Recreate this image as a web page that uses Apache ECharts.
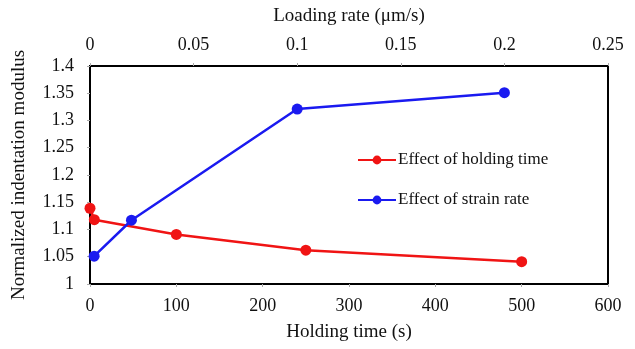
<!DOCTYPE html>
<html>
<head>
<meta charset="utf-8">
<script src="https://cdn.jsdelivr.net/npm/echarts@6/dist/echarts.min.js"></script>
<style>
  html, body { margin: 0; padding: 0; background: #fff; }
  #chart { width: 635px; height: 349px; }
</style>
</head>
<body>
<div id="chart"></div>
<script>
// Holding time (s) vs. normalized modulus
const holdingTime = [0, 5, 100, 250, 500];
const holdingModulus = [1.139, 1.118, 1.091, 1.062, 1.041];
// Loading rate (µm/s) vs. normalized modulus
const loadingRate = [0.002, 0.02, 0.1, 0.2];
const rateModulus = [1.051, 1.117, 1.321, 1.351];

const seriesNames = ['Effect of holding time', 'Effect of strain rate'];

const FONT = '"Liberation Serif", "Times New Roman", serif';
const RED = '#f01414';
const BLUE = '#1a1af0';

const chart = echarts.init(document.getElementById('chart'));

const tickStyle = { show: true, length: 3, inside: false, lineStyle: { color: '#aaa', width: 1 } };

chart.setOption({
  animation: false,
  backgroundColor: '#fff',
  textStyle: { fontFamily: FONT },
  grid: {
    left: 90, right: 27, top: 66, bottom: 65,
    outerBoundsMode: 'none',
    containLabel: false,
    show: true, borderColor: '#000', borderWidth: 2, backgroundColor: 'transparent'
  },
  legend: {
    orient: 'vertical',
    left: 357, top: 150,
    padding: 0,
    itemWidth: 38, itemHeight: 11, itemGap: 20,
    textStyle: { fontFamily: FONT, fontSize: 17, lineHeight: 20, color: '#111', padding: [0, 0, 0, -3] },
    data: seriesNames
  },
  xAxis: [
    {
      type: 'value', position: 'bottom',
      min: 0, max: 600, interval: 100,
      name: 'Holding time (s)', nameLocation: 'middle', nameGap: 39,
      nameTextStyle: { fontFamily: FONT, fontSize: 19, color: '#111' },
      axisLine: { show: false },
      axisTick: tickStyle,
      axisLabel: { fontFamily: FONT, fontSize: 18, color: '#111', margin: 13 },
      splitLine: { show: false }
    },
    {
      type: 'value', position: 'top',
      min: 0, max: 0.25, interval: 0.05,
      name: 'Loading rate (\u03bcm/s)', nameLocation: 'middle', nameGap: 40,
      nameTextStyle: { fontFamily: FONT, fontSize: 19, color: '#111' },
      axisLine: { show: false },
      axisTick: tickStyle,
      axisLabel: { fontFamily: FONT, fontSize: 18, color: '#111', margin: 12 },
      splitLine: { show: false }
    }
  ],
  yAxis: {
    type: 'value',
    min: 1, max: 1.4, interval: 0.05,
    name: 'Normalized indentation modulus', nameLocation: 'middle', nameGap: 61,
    nameTextStyle: { fontFamily: FONT, fontSize: 19, color: '#111' },
    axisLine: { show: false },
    axisTick: tickStyle,
    axisLabel: { fontFamily: FONT, fontSize: 18, color: '#111', margin: 16 },
    splitLine: { show: false }
  },
  series: [
    {
      name: seriesNames[0],
      type: 'line', xAxisIndex: 0,
      data: holdingTime.map((t, i) => [t, holdingModulus[i]]),
      color: RED,
      symbol: 'circle', symbolSize: 11,
      lineStyle: { color: RED, width: 2.5 },
      itemStyle: { color: RED }
    },
    {
      name: seriesNames[1],
      type: 'line', xAxisIndex: 1,
      data: loadingRate.map((r, i) => [r, rateModulus[i]]),
      color: BLUE,
      symbol: 'circle', symbolSize: 11,
      lineStyle: { color: BLUE, width: 2.5 },
      itemStyle: { color: BLUE }
    }
  ]
});
</script>
</body>
</html>
